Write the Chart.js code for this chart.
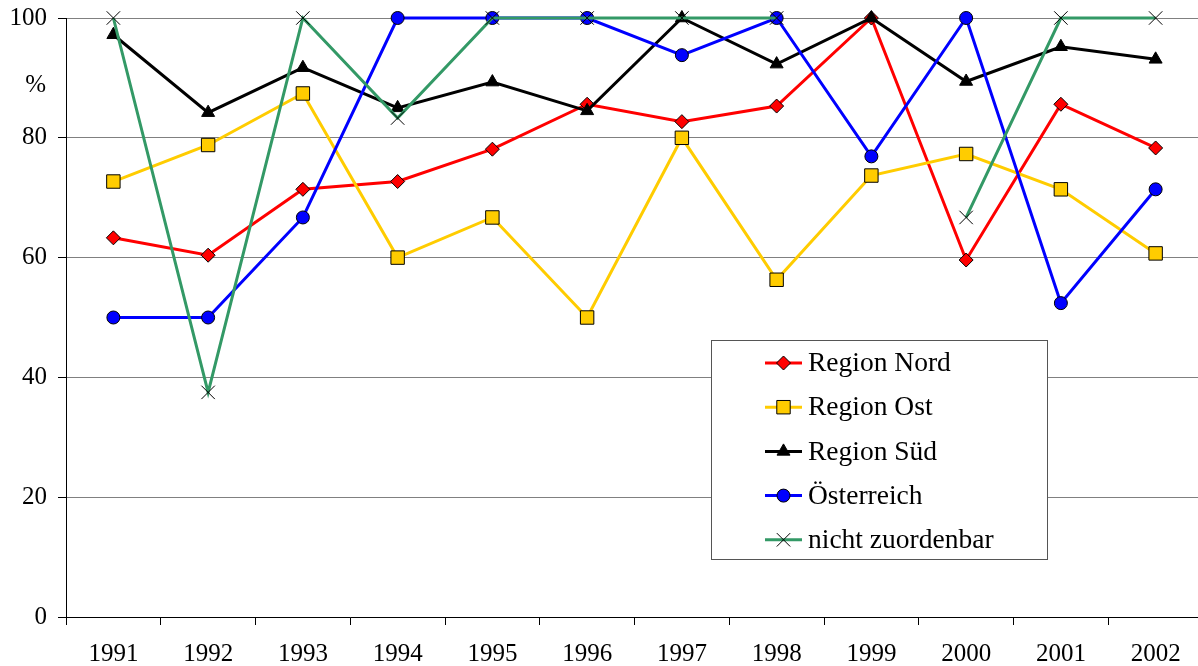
<!DOCTYPE html>
<html>
<head>
<meta charset="utf-8">
<script src="https://cdn.jsdelivr.net/npm/chart.js@4/dist/chart.umd.min.js"></script>
<style>
  html, body { margin: 0; padding: 0; background: #fff; overflow: hidden; }
  #wrap { position: relative; width: 1203px; height: 666px; }
</style>
</head>
<body>
<div id="wrap"><canvas id="lineChart"></canvas></div>
<script>
const years = ['1991', '1992', '1993', '1994', '1995', '1996', '1997', '1998', '1999', '2000', '2001', '2002'];
const regionNord = [63.3, 60.4, 71.4, 72.7, 78.1, 85.6, 82.7, 85.3, 100, 59.6, 85.6, 78.3];
const regionOst = [72.7, 78.8, 87.4, 60.0, 66.7, 50.0, 80.0, 56.3, 73.7, 77.3, 71.4, 60.7];
const regionSued = [97.2, 84.2, 91.7, 85.0, 89.3, 84.5, 100, 92.3, 100, 89.4, 95.2, 93.1];
const oesterreich = [50.0, 50.0, 66.7, 100, 100, 100, 93.8, 100, 76.9, 100, 52.4, 71.4];
const nichtZuordenbar = [100, 37.5, 100, 83.3, 100, 100, 100, 100, null, 66.7, 100, 100];
const yTicks = [0, 20, 40, 60, 80, 100];

const serif = "'Liberation Serif', 'Times New Roman', serif";

const series = [
  { label: 'Region Nord', data: regionNord, color: '#ff0000', fill: '#ff0000', style: 'rectRot', radius: 7 },
  { label: 'Region Ost', data: regionOst, color: '#ffcc00', fill: '#ffcc00', style: 'rect', radius: 9.5 },
  { label: 'Region Süd', data: regionSued, color: '#000000', fill: '#000000', style: 'triangle', radius: 7.5 },
  { label: 'Österreich', data: oesterreich, color: '#0000ff', fill: '#0000ff', style: 'circle', radius: 6.5 },
  { label: 'nicht zuordenbar', data: nichtZuordenbar, color: '#339966', fill: '#000000', style: 'crossRot', radius: 9.5 }
];

// legend box and the "%" label
const extras = {
  id: 'extras',
  afterDraw(chart) {
    const ctx = chart.ctx;
    ctx.save();
    ctx.font = '25px ' + serif;
    ctx.fillStyle = '#000';
    ctx.textAlign = 'right';
    ctx.textBaseline = 'middle';
    ctx.fillText('%', 46, 85);

    const bx = 711, by = 340, bw = 336, bh = 219;
    ctx.fillStyle = '#fff';
    ctx.fillRect(bx, by, bw, bh);
    ctx.strokeStyle = '#555';
    ctx.lineWidth = 1;
    ctx.strokeRect(bx + 0.5, by + 0.5, bw, bh);

    series.forEach(function (s, i) {
      const y = 363 + i * 44.2;
      ctx.strokeStyle = s.color;
      ctx.lineWidth = 3;
      ctx.beginPath();
      ctx.moveTo(765, y);
      ctx.lineTo(802, y);
      ctx.stroke();
      ctx.fillStyle = s.fill;
      ctx.strokeStyle = '#000';
      ctx.lineWidth = 1;
      Chart.helpers.drawPoint(ctx, { pointStyle: s.style, radius: s.radius, rotation: 0, borderWidth: 1 }, 783.5, y);
      ctx.fillStyle = '#000';
      ctx.font = '27.5px ' + serif;
      ctx.textAlign = 'left';
      ctx.textBaseline = 'middle';
      ctx.fillText(s.label, 808, y + 1);
    });
    ctx.restore();
  }
};

let ctx = document.getElementById('lineChart');
let lineChart = new Chart(ctx, {
  type: 'line',
  data: {
    labels: years,
    datasets: series.map(function (s, i) {
      return {
        label: s.label,
        data: s.data,
        borderColor: s.color,
        backgroundColor: s.fill,
        borderWidth: 3,
        tension: 0,
        spanGaps: false,
        clip: false,
        order: 5 - i,
        pointStyle: s.style,
        pointRadius: s.radius,
        pointHoverRadius: s.radius,
        pointBackgroundColor: s.fill,
        pointBorderColor: '#000',
        pointBorderWidth: 1
      };
    })
  },
  options: {
    responsive: true,
    maintainAspectRatio: false,
    animation: false,
    events: [],
    layout: { autoPadding: false, padding: { top: 18, right: 0, left: 0, bottom: 0 } },
    plugins: {
      legend: { display: false },
      tooltip: { enabled: false }
    },
    scales: {
      x: {
        offset: true,
        grid: { offset: true, drawOnChartArea: false, drawTicks: true, tickLength: 8, tickColor: '#000' },
        border: { display: true, color: '#000', width: 1 },
        ticks: { color: '#000', font: { family: serif, size: 25 }, padding: 14, maxRotation: 0, autoSkip: false },
        afterFit(scale) {
          scale.height = 49;
          scale.paddingLeft = 0;
          scale.paddingRight = 0;
        }
      },
      y: {
        min: 0,
        max: 100,
        afterBuildTicks(scale) { scale.ticks = yTicks.map(function (v) { return { value: v }; }); },
        grid: { color: '#808080', lineWidth: 1, drawTicks: true, tickLength: 8, tickColor: '#000' },
        border: { display: true, color: '#000', width: 1 },
        ticks: { color: '#000', font: { family: serif, size: 25 }, padding: 11 },
        afterFit(scale) {
          scale.width = 66;
          scale.paddingTop = 0;
          scale.paddingBottom = 0;
        }
      }
    }
  },
  plugins: [extras]
});
</script>
</body>
</html>
